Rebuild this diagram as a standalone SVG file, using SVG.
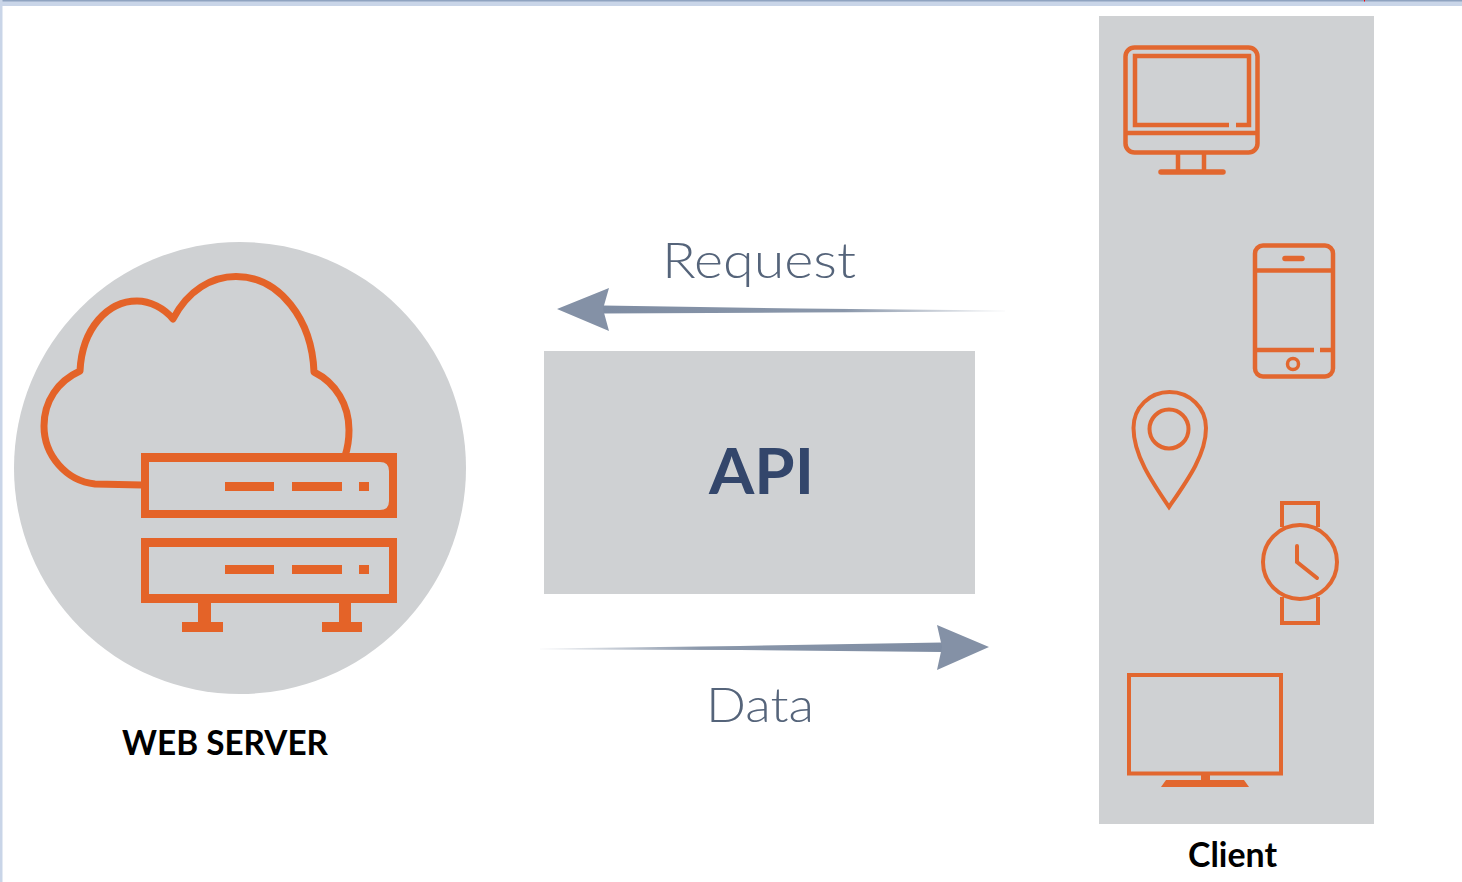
<svg xmlns="http://www.w3.org/2000/svg" width="1462" height="882" viewBox="0 0 1462 882">
<style>
.panel{fill:#cfd1d3}
.o{fill:none;stroke:#e46328;stroke-width:7;stroke-linejoin:round}
.s{fill:#e46328;stroke:none}
.c{stroke:#e2672f;stroke-width:4.5;fill:none}
.c4{stroke-width:4}
.c3{stroke-width:3.5}
.c5{stroke-width:5.5;stroke-linecap:round}
.rnd{stroke-linecap:round}
.t{fill:#e2672f;stroke:none}
.lab{font-family:"Lato","Liberation Sans",sans-serif;font-weight:300;fill:#55647a}
.cap{font-family:"Lato","Liberation Sans",sans-serif;font-weight:700;fill:#000}
.api{font-family:"Lato","Liberation Sans",sans-serif;font-weight:700;fill:#33466b}
</style>
<defs>
<linearGradient id="fadeL" gradientUnits="userSpaceOnUse" x1="603" y1="0" x2="1005" y2="0"><stop offset="0" stop-color="#7f8da3"/><stop offset="0.6" stop-color="#8a97aa"/><stop offset="1" stop-color="#8a97aa" stop-opacity="0.05"/></linearGradient>
<linearGradient id="fadeR" gradientUnits="userSpaceOnUse" x1="942" y1="0" x2="540" y2="0"><stop offset="0" stop-color="#7f8da3"/><stop offset="0.6" stop-color="#8a97aa"/><stop offset="1" stop-color="#8a97aa" stop-opacity="0.05"/></linearGradient>
</defs>
<rect width="1462" height="882" fill="#fff"/>
<g id="window-edge">
<rect x="0" y="0" width="1462" height="6" fill="#c9d5e8"/>
<rect x="0" y="0" width="1462" height="1.5" fill="#8fa3c0"/>
<rect x="0" y="0" width="2.5" height="882" fill="#c9d5e8"/>
<rect x="1364" y="0" width="1" height="1.5" fill="#f00"/>
</g>
<g id="web-server">
<circle class="panel" cx="240" cy="468" r="226"/>
<path class="o" d="M142 485 L95 484 C66 481 44 455 44 426 C44 401 58 381 80 371 C82 328 108 301 137 301 C150 301 164 308 173 319 C188 290 212 276.500 236 276.500 C280 276.500 312 320 314 372 C336 383 349 405 349 430 C349 440 348 447 345 456"/>
<path class="s" fill-rule="evenodd" d="M141 453 H397 V518 H141 Z M149 462 V510 H380 Q389 510 389 501 V471 Q389 462 380 462 Z"/>
<rect class="s" x="225" y="482" width="49" height="9"/>
<rect class="s" x="292" y="482" width="50" height="9"/>
<rect class="s" x="359" y="482" width="10" height="9"/>
<path class="s" fill-rule="evenodd" d="M141 538 H397 V603 H141 Z M149 547 V594 H389 V547 Z"/>
<rect class="s" x="225" y="565" width="49" height="9"/>
<rect class="s" x="292" y="565" width="50" height="9"/>
<rect class="s" x="359" y="565" width="10" height="9"/>
<rect class="s" x="198" y="603" width="13" height="20"/>
<rect class="s" x="182" y="622" width="41" height="10"/>
<rect class="s" x="339" y="603" width="12" height="20"/>
<rect class="s" x="322" y="622" width="40" height="10"/>
<text class="cap" x="122" y="755" font-size="34" textLength="206" lengthAdjust="spacingAndGlyphs">WEB SERVER</text>
</g>
<g id="api">
<rect class="panel" x="544" y="351" width="431" height="243"/>
<text class="api" x="709" y="494" font-size="64" textLength="105" lengthAdjust="spacingAndGlyphs">API</text>
</g>
<g id="connectors">
<g id="request-arrow">
<path fill="url(#fadeL)" d="M603 305.500 L800 308.500 L1005 310.500 L1005 311.500 L800 312.500 L603 313.500 Z"/>
<path fill="#8491a6" d="M557 309 L609 288 L603 309 L609 331 Z"/>
</g>
<g id="data-arrow">
<path fill="url(#fadeR)" d="M942 642.500 L740 646 L540 648.500 L540 649.500 L740 650 L942 652 Z"/>
<path fill="#8491a6" d="M989 647 L937 625 L942 647 L937 670 Z"/>
</g>
</g>
<text class="lab" x="662" y="278" font-size="49" textLength="194" lengthAdjust="spacingAndGlyphs">Request</text>
<text class="lab" x="706" y="722" font-size="48" textLength="108" lengthAdjust="spacingAndGlyphs">Data</text>
<g id="client">
<rect class="panel" x="1099" y="16" width="275" height="808"/>
<g id="desktop">
<rect class="c" x="1125.500" y="47.500" width="132" height="105" rx="9"/>
<path class="c" d="M1125 133 H1257"/>
<path class="c" d="M1229 125 H1135 V56 H1249 V125 H1236"/>
<path class="c" d="M1178 153 V172 M1204 153 V172"/>
<path class="c c5" d="M1161 172 H1223"/>
</g>
<g id="phone">
<rect class="c" x="1255" y="245.500" width="78" height="131" rx="8"/>
<path class="c" d="M1255 270.500 H1333"/>
<path class="c" d="M1255 350 H1314 M1320 350 H1333"/>
<path class="c c5" d="M1285 258.500 H1302"/>
<circle class="c c3" cx="1293" cy="364" r="5.500"/>
</g>
<g id="pin">
<path class="c c4" d="M1169 507 C1152 482 1133.500 455 1133.500 428 C1133.500 407 1150 392 1169.500 392 C1190 392 1206 408 1206 428 C1206 455 1187 481 1169 507 Z"/>
<circle class="c c4" cx="1169" cy="429" r="19.500"/>
</g>
<g id="watch">
<path class="c c4" d="M1282 527 V503 H1318 V527 M1282 597 V623 H1318 V597"/>
<circle class="c c4" cx="1300" cy="562" r="37"/>
<path class="c c4 rnd" d="M1297 546 V562 L1317 578"/>
</g>
<g id="tv">
<rect class="c c4" x="1129" y="675" width="152" height="98.500"/>
<rect class="t" x="1201" y="775" width="9" height="6"/>
<path class="t" d="M1166 780 H1244 L1249 787 H1161 Z"/>
</g>
<text class="cap" x="1188" y="867" font-size="34" textLength="89" lengthAdjust="spacingAndGlyphs">Client</text>
</g>
</svg>
